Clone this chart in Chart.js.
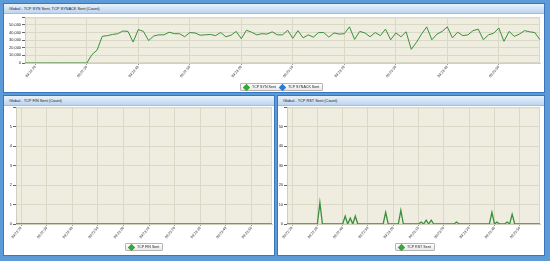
<!DOCTYPE html>
<html><head><meta charset="utf-8">
<script src="https://cdn.jsdelivr.net/npm/chart.js@4.4.1/dist/chart.umd.min.js"></script>
<style>
html,body{margin:0;padding:0;width:550px;height:261px;overflow:hidden;background:#5d9bd8;font-family:"Liberation Sans",Arial,sans-serif;}
.panel{position:absolute;background:#fff;border:1px solid #3a76bd;box-sizing:border-box;}
.title{position:absolute;left:0;top:0;right:0;height:9px;background:linear-gradient(#e8f1fb,#bcd6f1);border-bottom:1px solid #9cbfe6;font-size:3.9px;line-height:9px;padding-left:5px;color:#1a1a1a;white-space:nowrap;}
canvas{position:absolute;}
.legend{position:absolute;border:1px solid #b5b5b5;border-radius:1px;background:linear-gradient(#ffffff,#e9e9e9);font-size:3.6px;height:6px;line-height:6px;padding:0 3px;display:flex;align-items:center;gap:4px;white-space:nowrap;color:#222;box-sizing:content-box;}
.item{display:flex;align-items:center;gap:3px}
.dia{width:3px;height:3px;transform:rotate(45deg);border:1px solid;}
</style></head>
<body>
<div class="panel" style="left:3px;top:3px;width:542px;height:90px"><div class="title" id="t0"></div></div>
<div class="panel" style="left:3px;top:95px;width:272px;height:161px"><div class="title" id="t1"></div></div>
<div class="panel" style="left:277px;top:95px;width:268px;height:161px"><div class="title" id="t2"></div></div>
<canvas id="c0" style="left:4px;top:14px;width:539px;height:78px" width="539" height="78"></canvas>
<canvas id="c1" style="left:4px;top:104px;width:270px;height:151px" width="270" height="151"></canvas>
<canvas id="c2" style="left:278px;top:104px;width:266px;height:151px" width="266" height="151"></canvas>
<div class="legend" id="l0" style="left:240px;top:83px"></div>
<div class="legend" id="l1" style="left:125px;top:243px"></div>
<div class="legend" id="l2" style="left:395px;top:243px"></div>
<script>
// ---- data ----
const startTime = '09:22:18';
const pointCount = 101;
const tickLabels = ['09:22:20','09:22:30','09:22:40','09:22:50','09:23:00','09:23:10','09:23:20','09:23:30','09:23:40','09:23:50'];
const titles = ['Global - TCP SYN Sent, TCP SYNACK Sent (Count)','Global - TCP FIN Sent (Count)','Global - TCP RST Sent (Count)'];
const synLabel = 'TCP SYN Sent';
const synackLabel = 'TCP SYNACK Sent';
const finLabel = 'TCP FIN Sent';
const rstLabel = 'TCP RST Sent';
const synSent = [0,0,0,0,0,0,0,0,0,0,0,0,0,11000,17000,35000,36000,37500,38500,42000,41500,27500,44000,41500,29500,35500,37000,37000,40500,38500,38500,34500,40000,39500,36500,37000,37500,36000,40000,34500,36500,41500,32000,43000,40500,37000,38500,38000,41000,37000,37000,43000,32500,42500,33000,37000,34000,40000,40000,34000,39500,38000,38500,47500,31000,41500,39500,34500,40000,36000,44500,30500,39500,34500,41000,18000,27000,38000,47500,30500,38000,41500,47500,33000,40500,36000,37000,42500,44500,30500,37000,39000,46000,28500,41500,35000,38000,42500,41000,40000,30500];
const synackSent = [];
const finSent = [0,0,0,0,0,0,0,0,0,0,0,0,0,0,0,0,0,0,0,0,0,0,0,0,0,0,0,0,0,0,0,0,0,0,0,0,0,0,0,0,0,0,0,0,0,0,0,0,0,0,0,0,0,0,0,0,0,0,0,0,0,0,0,0,0,0,0,0,0,0,0,0,0,0,0,0,0,0,0,0,0,0,0,0,0,0,0,0,0,0,0,0,0,0,0,0,0,0,0,0,0];
const rstSent = [0,0,0,0,0,0,0,0,0,0,0,0,0,11,0,0,0,0,0,0,0,0,0,4,0,3,0,4,0,0,0,0,0,0,0,0,0,0,0,6,0,0,0,0,0,7,0,0,0,0,0,0,0,1,0,2,0,2,0,0,0,0,0,0,0,0,0,1,0,0,0,0,0,0,0,0,0,0,0,0,0,6,0,1,0,0,0,1,0,5,0,0,0,0,0,0,0,0,0,0,0];
const yMax = [60000, 6, 60];
const yStep = [10000, 1, 10];

// ---- build ----
function pad(n){return String(n).padStart(2,'0');}
const [h0,m0,s0] = startTime.split(':').map(Number);
const times = [];
for(let i=0;i<pointCount;i++){let s=h0*3600+m0*60+s0+i;times.push(pad(Math.floor(s/3600))+':'+pad(Math.floor(s/60)%60)+':'+pad(s%60));}

const green='#3c8f3c', blue='#2f6fc2';
Chart.defaults.font.family='"Liberation Sans", Arial, sans-serif';
Chart.defaults.font.size=3.9;
Chart.defaults.color='#222';
Chart.defaults.animation=false;

const bgPlugin={id:'bg',beforeDraw(c){const a=c.chartArea,x=c.ctx;x.save();x.fillStyle='#eeeddf';x.fillRect(a.left,a.top,a.right-a.left,a.bottom-a.top);x.strokeStyle='#d9d8c5';x.lineWidth=1;x.strokeRect(a.left+0.5,a.top+0.5,a.right-a.left-1,a.bottom-a.top-1);x.restore();}};

function make(id, datasets, idx, yW, pad){
  new Chart(document.getElementById(id),{
    type:'line',
    data:{labels:times,datasets:datasets.map(d=>({label:d.label,data:d.data,borderColor:d.color,backgroundColor:d.color,borderWidth:d.w,pointRadius:0,tension:0,fill:false}))},
    options:{
      responsive:false,maintainAspectRatio:false,
      layout:{padding:pad},
      plugins:{legend:{display:false},tooltip:{enabled:false}},
      scales:{
        x:{type:'category',offset:false,
          afterBuildTicks(s){s.ticks=s.ticks.filter(t=>tickLabels.includes(times[t.value]));},
          afterFit(s){s.height=19;},
          ticks:{autoSkip:false,minRotation:50,maxRotation:50,padding:0,font:{size:3.6}},
          grid:{color:'#dad9c6',tickLength:2,tickColor:'#999'},
          border:{color:'#cfcfbd'}},
        y:{min:0,max:yMax[idx],
          afterFit(s){s.width=yW;},
          afterBuildTicks(s){s.ticks=[];for(let v=0;v<=yMax[idx];v+=yStep[idx])s.ticks.push({value:v});},
          ticks:{autoSkip:false,padding:1,callback:v=>v>=yMax[idx]?'':v.toLocaleString('en-US')},
          grid:{color:'#dad9c6',tickLength:3,tickColor:'#666'},
          border:{color:'#cfcfbd'}}
      }
    },
    plugins:[bgPlugin]
  });
}
make('c0',[{label:synLabel,data:synSent,color:green,w:1},{label:synackLabel,data:synackSent,color:blue,w:1}],0,21,{top:2,right:3,bottom:10,left:0});
make('c1',[{label:finLabel,data:finSent,color:green,w:1.3}],1,12,{top:2,right:2,bottom:12,left:0});
make('c2',[{label:rstLabel,data:rstSent,color:green,w:1.3}],2,9,{top:2,right:4,bottom:12,left:0});

titles.forEach((t,i)=>document.getElementById('t'+i).textContent=t);
function legend(id,items){document.getElementById(id).innerHTML=items.map(([l,c])=>'<span class="item"><span class="dia" style="background:'+c+';border-color:'+c+'"></span>'+l+'</span>').join('');}
legend('l0',[[synLabel,'#3aa63a'],[synackLabel,'#2f7ad0']]);
legend('l1',[[finLabel,'#3aa63a']]);
legend('l2',[[rstLabel,'#3aa63a']]);
</script>
</body></html>
